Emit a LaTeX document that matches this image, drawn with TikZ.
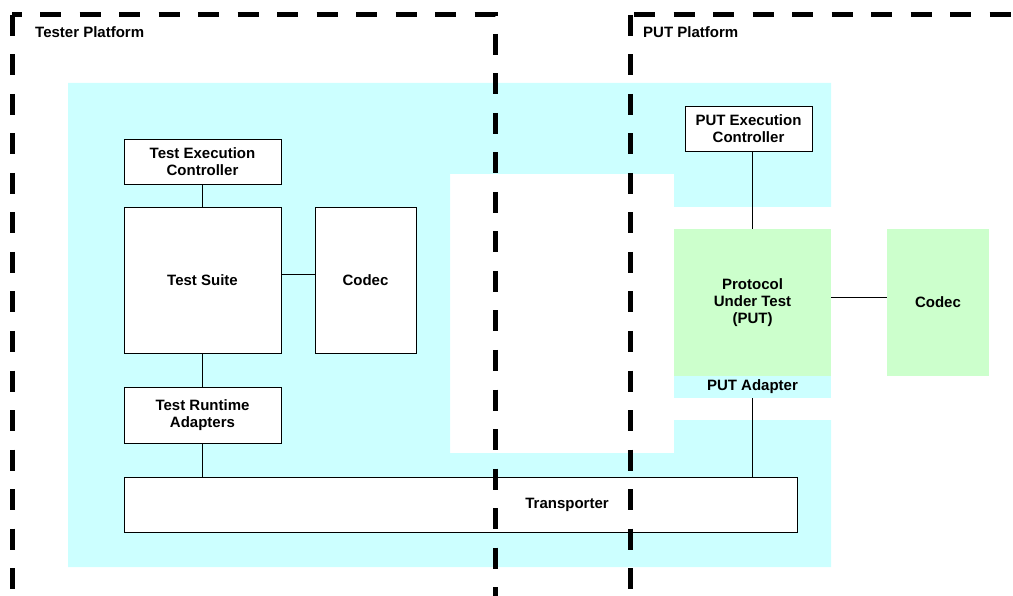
\documentclass[tikz,border=0pt]{standalone}
\usepackage{fontspec}
\setmainfont{Liberation Sans}
\definecolor{lightcyan}{HTML}{CCFFFF}
\definecolor{lightgreen}{HTML}{CCFFCC}
\tikzset{
  box/.style={draw, line width=0.8pt, fill=white, inner sep=0pt, align=center, font=\bfseries\fontsize{15}{17}\selectfont},
  greenbox/.style={fill=lightgreen, inner sep=0pt, align=center, font=\bfseries\fontsize{15}{17}\selectfont},
  caption/.style={inner sep=0pt, font=\bfseries\fontsize{15}{17}\selectfont},
  platform/.style={line width=5pt, dash pattern=on 21pt off 18.5pt},
  conn/.style={draw, line width=0.8pt},
}
\begin{document}
\begin{tikzpicture}[x=1pt,y=-1pt]
\useasboundingbox (0,0) rectangle (1013,596);

% cyan background
\fill[lightcyan] (68,83) -- (831,83) -- (831,207) -- (674,207) -- (674,174) -- (450,174) -- (450,453)
  -- (674,453) -- (674,420) -- (831,420) -- (831,567) -- (68,567) -- cycle;

% tester side
\node[box, minimum width=157, minimum height=45] (tec) at (202.5,161.5) {Test Execution\\Controller};
\node[box, minimum width=157, minimum height=146] (ts) at (202.5,280) {Test Suite};
\node[box, minimum width=101, minimum height=146] (tcodec) at (365.5,280) {Codec};
\node[box, minimum width=157, minimum height=56] (tra) at (202.5,415) {Test Runtime\\Adapters};
\node[box, minimum width=673, minimum height=55] (trans) at (460.5,504.5) {};
\node[caption] (translabel) at (567,505) {Transporter};

% PUT side
\node[box, minimum width=127, minimum height=45] (pec) at (748.5,128.5) {PUT Execution\\Controller};
\node[greenbox, minimum width=157, minimum height=147] (put) at (752.5,302.5) {Protocol\\Under Test\\(PUT)};
\node[greenbox, fill=lightcyan, minimum width=157, minimum height=22] (adapter) at (752.5,387) {PUT Adapter};
\node[greenbox, minimum width=102, minimum height=147] (pcodec) at (938,302.5) {Codec};

\path[conn] (tec) -- (ts);
\path[conn] ([yshift=6]ts.east) -- ([yshift=6]tcodec.west);
\path[conn] (ts) -- (tra);
\path[conn] (tra) -- (tra |- trans.north);
\path[conn] (put.north) -- (put.north |- pec.south);
\path[conn] ([yshift=5]put.east) -- ([yshift=5]pcodec.west);
\path[conn] (adapter.south) -- (adapter.south |- trans.north);

% platforms
\node[caption, anchor=west] (testerlabel) at (35,32) {Tester Platform};
\node[caption, anchor=west] (putlabel) at (643,32) {PUT Platform};
\draw[platform] (12,15) -- (12,610);
\draw[platform, dash phase=11.5pt] (12,15) -- (495,15) -- (495,610);
\draw[platform] (630,15) -- (630,610);
\draw[platform] (634,15) -- (1030,15);
\end{tikzpicture}
\end{document}
